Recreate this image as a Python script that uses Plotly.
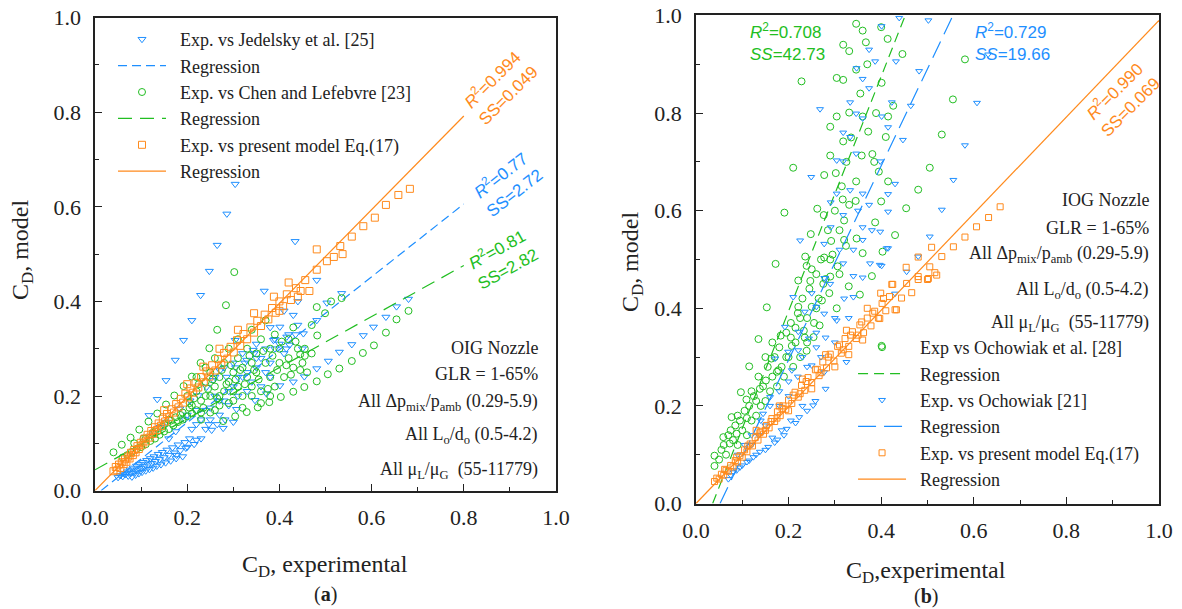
import plotly.graph_objects as go

# ---------------- panel (a): OIG nozzle ----------------
jed_x = [0.304, 0.286, 0.265, 0.248, 0.229, 0.210, 0.192, 0.174, 0.154, 0.135, 0.117,
         0.434, 0.367, 0.481, 0.535, 0.503, 0.481, 0.452, 0.422, 0.604, 0.582, 0.557, 0.530,
         0.506, 0.481, 0.454, 0.430, 0.631, 0.654, 0.680, 0.430, 0.401, 0.416, 0.387, 0.343,
         0.329, 0.304, 0.271, 0.257, 0.242, 0.224, 0.206, 0.184, 0.155, 0.141, 0.127,
         0.278, 0.253, 0.197, 0.177, 0.307, 0.347, 0.372, 0.401, 0.282, 0.230, 0.215,
         0.300, 0.247, 0.220,
         0.200, 0.220, 0.240, 0.260, 0.280, 0.300, 0.320, 0.330, 0.350, 0.360, 0.380, 0.390,
         0.400, 0.410, 0.420, 0.440, 0.450, 0.250, 0.270, 0.290, 0.310, 0.340, 0.370, 0.260,
         0.280, 0.300, 0.320, 0.350, 0.380, 0.410, 0.440,
         0.210, 0.230, 0.250, 0.270, 0.290, 0.310, 0.330, 0.350, 0.370, 0.390, 0.415, 0.435,
         0.285, 0.305, 0.325, 0.345, 0.220, 0.195, 0.175, 0.160, 0.205, 0.240, 0.265, 0.360,
         0.380,
         0.050, 0.055, 0.060, 0.062, 0.066, 0.070, 0.072, 0.076, 0.078, 0.080, 0.083, 0.085,
         0.088, 0.090, 0.092, 0.095, 0.097, 0.100, 0.102, 0.104, 0.107, 0.110, 0.112, 0.115,
         0.118, 0.120, 0.123, 0.126, 0.128, 0.131, 0.134, 0.137, 0.140, 0.143, 0.146, 0.150,
         0.153, 0.156, 0.160, 0.164, 0.168, 0.172, 0.176, 0.180, 0.185, 0.190, 0.195, 0.200]
jed_y = [0.648, 0.585, 0.519, 0.464, 0.413, 0.360, 0.318, 0.276, 0.233, 0.193, 0.159,
         0.527, 0.422, 0.445, 0.417, 0.397, 0.360, 0.332, 0.308, 0.346, 0.328, 0.309, 0.293,
         0.274, 0.258, 0.241, 0.230, 0.367, 0.389, 0.405, 0.371, 0.346, 0.325, 0.318, 0.297,
         0.276, 0.318, 0.254, 0.233, 0.219, 0.201, 0.190, 0.173, 0.145, 0.134, 0.123,
         0.132, 0.128, 0.090, 0.075, 0.172, 0.191, 0.205, 0.222, 0.150, 0.110, 0.098,
         0.145, 0.140, 0.107,
         0.160, 0.140, 0.170, 0.200, 0.190, 0.220, 0.240, 0.210, 0.260, 0.280, 0.270, 0.300,
         0.310, 0.290, 0.330, 0.350, 0.300, 0.150, 0.160, 0.180, 0.200, 0.230, 0.250, 0.240,
         0.260, 0.270, 0.290, 0.310, 0.345, 0.380, 0.400,
         0.130, 0.150, 0.175, 0.190, 0.210, 0.240, 0.250, 0.280, 0.300, 0.320, 0.300, 0.330,
         0.240, 0.260, 0.270, 0.290, 0.170, 0.150, 0.125, 0.110, 0.110, 0.130, 0.140, 0.220,
         0.240,
         0.028, 0.032, 0.030, 0.036, 0.034, 0.040, 0.031, 0.044, 0.037, 0.029, 0.048, 0.040,
         0.033, 0.052, 0.044, 0.036, 0.056, 0.047, 0.039, 0.060, 0.051, 0.042, 0.064, 0.055,
         0.045, 0.068, 0.058, 0.048, 0.072, 0.062, 0.052, 0.077, 0.066, 0.055, 0.081, 0.070,
         0.059, 0.086, 0.075, 0.063, 0.091, 0.080, 0.068, 0.097, 0.085, 0.072, 0.102, 0.092]

chen_x = [0.040, 0.058, 0.077, 0.096, 0.116, 0.135, 0.154, 0.172, 0.192, 0.210, 0.229,
          0.248, 0.265, 0.284, 0.302,
          0.278, 0.304, 0.329, 0.353, 0.378, 0.403, 0.430, 0.454, 0.481, 0.505, 0.530, 0.557,
          0.581, 0.605, 0.631, 0.654, 0.680,
          0.535, 0.499, 0.481, 0.482, 0.455, 0.430, 0.445, 0.512, 0.470,
          0.060, 0.070, 0.080, 0.090, 0.100, 0.110, 0.120, 0.130, 0.140, 0.150, 0.160, 0.170,
          0.180, 0.190, 0.200, 0.210, 0.220, 0.085, 0.105, 0.125, 0.145, 0.165, 0.185, 0.205,
          0.200, 0.210, 0.220, 0.230, 0.240, 0.250, 0.250, 0.260, 0.270, 0.270, 0.280, 0.280,
          0.290, 0.300, 0.300, 0.310, 0.310, 0.320, 0.320, 0.330, 0.330, 0.340, 0.340, 0.350,
          0.350, 0.360, 0.360, 0.370, 0.380, 0.380, 0.390, 0.390, 0.400, 0.400, 0.410, 0.420,
          0.420, 0.430, 0.440, 0.450, 0.460, 0.470, 0.230, 0.250, 0.270, 0.290, 0.220, 0.240,
          0.260, 0.290, 0.310, 0.340, 0.370,
          0.215, 0.225, 0.235, 0.245, 0.255, 0.265, 0.275, 0.285, 0.295, 0.305, 0.315, 0.325,
          0.335, 0.345, 0.355, 0.365, 0.375, 0.385, 0.395, 0.405, 0.415, 0.425, 0.435, 0.445,
          0.455, 0.300, 0.320, 0.340, 0.360, 0.380, 0.260, 0.240, 0.150, 0.160, 0.175, 0.190,
          0.205, 0.230, 0.130, 0.110]
chen_y = [0.081, 0.097, 0.112, 0.129, 0.146, 0.163, 0.182, 0.201, 0.221, 0.241, 0.270,
          0.301, 0.340, 0.392, 0.462,
          0.147, 0.157, 0.166, 0.176, 0.187, 0.198, 0.209, 0.219, 0.231, 0.246, 0.258, 0.274,
          0.291, 0.307, 0.334, 0.362, 0.380,
          0.407, 0.375, 0.388, 0.328, 0.300, 0.345, 0.288, 0.400, 0.350,
          0.070, 0.075, 0.082, 0.088, 0.092, 0.098, 0.105, 0.110, 0.118, 0.125, 0.130, 0.138,
          0.145, 0.150, 0.157, 0.163, 0.170, 0.100, 0.110, 0.122, 0.135, 0.148, 0.160, 0.175,
          0.200, 0.180, 0.210, 0.190, 0.230, 0.200, 0.250, 0.220, 0.180, 0.240, 0.210, 0.270,
          0.230, 0.190, 0.250, 0.280, 0.220, 0.200, 0.260, 0.240, 0.300, 0.220, 0.270, 0.250,
          0.290, 0.210, 0.320, 0.270, 0.240, 0.300, 0.220, 0.330, 0.270, 0.300, 0.240, 0.280,
          0.320, 0.260, 0.300, 0.270, 0.250, 0.290, 0.150, 0.165, 0.200, 0.185, 0.240, 0.260,
          0.280, 0.300, 0.320, 0.340, 0.360,
          0.195, 0.225, 0.175, 0.215, 0.235, 0.195, 0.255, 0.225, 0.265, 0.235, 0.255, 0.225,
          0.285, 0.255, 0.235, 0.295, 0.215, 0.285, 0.255, 0.315, 0.265, 0.245, 0.315, 0.255,
          0.285, 0.210, 0.175, 0.200, 0.185, 0.200, 0.170, 0.200, 0.140, 0.150, 0.155, 0.165,
          0.185, 0.165, 0.125, 0.110]

eq17a_x = [0.040, 0.045, 0.048, 0.052, 0.055, 0.058, 0.062, 0.065, 0.068, 0.072, 0.075,
           0.078, 0.082, 0.085, 0.088, 0.092, 0.095, 0.099, 0.103, 0.107, 0.110, 0.114,
           0.118, 0.122, 0.126, 0.130, 0.134, 0.138, 0.143, 0.147, 0.152, 0.156, 0.161,
           0.166, 0.171, 0.176, 0.181, 0.186, 0.191, 0.196, 0.202, 0.207, 0.213, 0.218,
           0.224, 0.230, 0.236, 0.242, 0.248, 0.254, 0.261, 0.267, 0.274, 0.280, 0.287,
           0.294, 0.301, 0.308, 0.315, 0.322, 0.330, 0.337, 0.345, 0.352, 0.360, 0.368,
           0.376, 0.384, 0.392, 0.400, 0.408, 0.416, 0.425, 0.436, 0.446, 0.456, 0.465,
           0.481, 0.481, 0.503, 0.518, 0.537, 0.532, 0.557, 0.582, 0.607, 0.631, 0.658, 0.683,
           0.200, 0.235, 0.270, 0.310, 0.150, 0.345, 0.388, 0.420, 0.440, 0.400]
eq17a_y = [0.041, 0.050, 0.043, 0.055, 0.048, 0.060, 0.056, 0.066, 0.061, 0.072, 0.068,
           0.080, 0.075, 0.086, 0.081, 0.094, 0.088, 0.101, 0.097, 0.110, 0.104, 0.118,
           0.112, 0.126, 0.120, 0.134, 0.128, 0.142, 0.137, 0.152, 0.146, 0.162, 0.155,
           0.172, 0.165, 0.183, 0.176, 0.194, 0.186, 0.205, 0.197, 0.216, 0.207, 0.228,
           0.218, 0.240, 0.229, 0.252, 0.241, 0.265, 0.254, 0.278, 0.266, 0.291, 0.279,
           0.304, 0.292, 0.318, 0.306, 0.331, 0.320, 0.345, 0.334, 0.359, 0.348, 0.372,
           0.362, 0.386, 0.376, 0.400, 0.390, 0.415, 0.403, 0.428, 0.422, 0.445, 0.422,
           0.467, 0.510, 0.485, 0.494, 0.500, 0.517, 0.537, 0.559, 0.577, 0.604, 0.625, 0.638,
           0.225, 0.262, 0.300, 0.340, 0.170, 0.375, 0.410, 0.440, 0.410, 0.380]

reg_jed_x, reg_jed_y = [0.013, 0.80], [0.0, 0.606]
reg_chen_x, reg_chen_y = [0.0, 0.80], [0.044, 0.476]
reg_eq17a_x, reg_eq17a_y = [0.0, 0.80], [0.0, 0.792]

# ---------------- panel (b): IOG nozzle ----------------
och28_x = [0.346, 0.360, 0.400, 0.414, 0.318, 0.331, 0.367, 0.446, 0.581, 0.555, 0.531,
           0.505, 0.228, 0.304, 0.318, 0.346, 0.401, 0.426, 0.304, 0.331, 0.360, 0.389,
           0.415, 0.290, 0.372, 0.410, 0.318, 0.290, 0.358, 0.381, 0.210, 0.277, 0.302,
           0.346, 0.415, 0.480, 0.317, 0.191, 0.262, 0.276, 0.331, 0.400, 0.454, 0.387,
           0.320, 0.430, 0.347, 0.248, 0.292, 0.324, 0.360, 0.403, 0.380, 0.172, 0.236,
           0.239, 0.277, 0.306, 0.330, 0.288, 0.247, 0.221, 0.153, 0.221, 0.250, 0.272,
           0.354, 0.304, 0.267, 0.233, 0.254, 0.135, 0.183, 0.207, 0.239, 0.401, 0.115,
           0.163, 0.178, 0.151, 0.138, 0.097, 0.109, 0.077, 0.059, 0.040, 0.040, 0.073,
           0.088, 0.290,
           0.050, 0.055, 0.065, 0.070, 0.080, 0.085, 0.090, 0.095, 0.100, 0.105, 0.110,
           0.115, 0.120, 0.125, 0.130, 0.135, 0.140, 0.145, 0.150, 0.155, 0.160, 0.165,
           0.170, 0.175, 0.180, 0.185, 0.190, 0.195, 0.200, 0.205, 0.210, 0.215, 0.220,
           0.225, 0.230, 0.235, 0.240, 0.245, 0.255, 0.260, 0.265, 0.270, 0.280, 0.285,
           0.295, 0.300, 0.310, 0.315, 0.325, 0.335, 0.345, 0.355, 0.370, 0.385, 0.395,
           0.060, 0.075, 0.090, 0.110, 0.120, 0.130, 0.150, 0.165, 0.175, 0.195, 0.205,
           0.215, 0.225, 0.240, 0.250, 0.260, 0.275, 0.290, 0.310, 0.320]
och28_y = [0.983, 0.969, 0.976, 0.952, 0.940, 0.927, 0.945, 0.921, 0.910, 0.828, 0.756,
           0.688, 0.865, 0.872, 0.868, 0.889, 0.862, 0.815, 0.793, 0.801, 0.793, 0.800,
           0.793, 0.772, 0.762, 0.751, 0.742, 0.713, 0.713, 0.716, 0.688, 0.673, 0.677,
           0.660, 0.660, 0.643, 0.623, 0.596, 0.604, 0.591, 0.612, 0.619, 0.605, 0.576,
           0.580, 0.550, 0.543, 0.552, 0.538, 0.528, 0.513, 0.516, 0.466, 0.491, 0.506,
           0.487, 0.504, 0.486, 0.445, 0.431, 0.456, 0.457, 0.402, 0.403, 0.403, 0.416,
           0.428, 0.400, 0.365, 0.354, 0.341, 0.337, 0.344, 0.323, 0.313, 0.323, 0.281,
           0.297, 0.273, 0.252, 0.235, 0.228, 0.213, 0.177, 0.136, 0.098, 0.077, 0.123,
           0.143, 0.465,
           0.090, 0.110, 0.100, 0.140, 0.130, 0.160, 0.120, 0.170, 0.150, 0.190, 0.140,
           0.200, 0.170, 0.220, 0.180, 0.260, 0.200, 0.240, 0.210, 0.280, 0.230, 0.260,
           0.300, 0.240, 0.320, 0.280, 0.260, 0.350, 0.300, 0.370, 0.280, 0.330, 0.390,
           0.300, 0.420, 0.340, 0.380, 0.440, 0.370, 0.470, 0.420, 0.500, 0.460, 0.560,
           0.510, 0.600, 0.560, 0.650, 0.700, 0.750, 0.620, 0.840, 0.900, 0.700, 0.680,
           0.120, 0.150, 0.180, 0.175, 0.230, 0.210, 0.300, 0.330, 0.270, 0.300, 0.340,
           0.360, 0.380, 0.330, 0.480, 0.400, 0.450, 0.500, 0.470, 0.540]

och21_x = [0.439, 0.502, 0.401, 0.374, 0.432, 0.387, 0.347, 0.482, 0.360, 0.374, 0.268,
           0.333, 0.423, 0.346, 0.360, 0.401, 0.415, 0.464, 0.447, 0.318, 0.333, 0.346,
           0.398, 0.304, 0.249, 0.430, 0.333, 0.360, 0.415, 0.304,
           0.631, 0.607, 0.581, 0.556, 0.531, 0.505,
           0.318, 0.291, 0.374, 0.415, 0.291, 0.318, 0.360, 0.398, 0.225, 0.277, 0.415,
           0.376, 0.401, 0.318, 0.340, 0.360, 0.250, 0.277, 0.340, 0.210, 0.235, 0.260,
           0.277, 0.304, 0.192, 0.221, 0.244, 0.171, 0.199, 0.221, 0.207, 0.250, 0.277,
           0.325, 0.253, 0.223, 0.196, 0.176, 0.145, 0.160,
           0.156, 0.138, 0.124, 0.110, 0.095, 0.081, 0.070,
           0.280, 0.258, 0.240, 0.215, 0.190, 0.170, 0.150, 0.130, 0.115, 0.100, 0.088,
           0.075, 0.165, 0.185, 0.205, 0.230, 0.300, 0.330, 0.270, 0.310, 0.350, 0.290,
           0.260, 0.230, 0.200, 0.180, 0.160, 0.140, 0.120, 0.105, 0.090,
           0.412, 0.397, 0.455, 0.430, 0.480,
           0.180, 0.200, 0.220, 0.240, 0.260, 0.280, 0.300, 0.320, 0.340, 0.360, 0.380,
           0.120, 0.135, 0.150]
och21_y = [0.995, 0.990, 0.978, 0.930, 0.906, 0.906, 0.892, 0.886, 0.870, 0.851, 0.808,
           0.822, 0.822, 0.799, 0.789, 0.793, 0.771, 0.815, 0.745, 0.760, 0.751, 0.717,
           0.701, 0.703, 0.669, 0.655, 0.642, 0.635, 0.634, 0.635,
           0.920, 0.821, 0.734, 0.663, 0.602, 0.547,
           0.701, 0.617, 0.612, 0.598, 0.566, 0.591, 0.566, 0.557, 0.539, 0.532, 0.523,
           0.492, 0.487, 0.492, 0.466, 0.463, 0.431, 0.462, 0.423, 0.423, 0.393, 0.403,
           0.389, 0.375, 0.362, 0.352, 0.338, 0.297, 0.311, 0.314, 0.273, 0.283, 0.269,
           0.290, 0.201, 0.177, 0.153, 0.131, 0.184, 0.218,
           0.116, 0.106, 0.095, 0.085, 0.074, 0.064, 0.050,
           0.235, 0.210, 0.190, 0.165, 0.140, 0.125, 0.110, 0.100, 0.088, 0.078, 0.068,
           0.058, 0.135, 0.150, 0.170, 0.200, 0.330, 0.380, 0.300, 0.520, 0.600, 0.450,
           0.350, 0.300, 0.250, 0.230, 0.200, 0.170, 0.140, 0.120, 0.100,
           0.523, 0.489, 0.475, 0.430, 0.506,
           0.200, 0.220, 0.260, 0.280, 0.320, 0.340, 0.380, 0.420, 0.520, 0.540, 0.560,
           0.120, 0.140, 0.160]

eq17b_x = [0.040, 0.045, 0.050, 0.055, 0.060, 0.065, 0.070, 0.075, 0.080, 0.085, 0.090,
           0.095, 0.100, 0.105, 0.110, 0.117, 0.122, 0.128, 0.134, 0.140, 0.146, 0.152,
           0.158, 0.164, 0.170, 0.176, 0.182, 0.188, 0.194, 0.200, 0.207, 0.214, 0.221,
           0.228, 0.235, 0.242, 0.250, 0.258, 0.266, 0.274, 0.282, 0.290, 0.298, 0.306,
           0.314, 0.322, 0.330, 0.338, 0.346, 0.354, 0.362, 0.370, 0.378, 0.386, 0.394,
           0.402, 0.410, 0.418, 0.425, 0.430, 0.444, 0.455, 0.466, 0.480, 0.500, 0.516,
           0.505, 0.531, 0.556, 0.581, 0.606, 0.632, 0.657, 0.509, 0.480, 0.454, 0.480,
           0.502, 0.520, 0.423, 0.433, 0.399,
           0.300, 0.330, 0.360, 0.397, 0.250, 0.200,
           0.230, 0.280, 0.325, 0.370, 0.180, 0.130,
           0.062, 0.088, 0.112, 0.138, 0.162, 0.186, 0.210, 0.238, 0.262, 0.286, 0.310,
           0.334, 0.358, 0.382, 0.405, 0.150, 0.175, 0.225, 0.270, 0.318, 0.350]
eq17b_y = [0.045, 0.052, 0.050, 0.060, 0.058, 0.068, 0.066, 0.078, 0.075, 0.088, 0.085,
           0.098, 0.095, 0.110, 0.106, 0.122, 0.118, 0.135, 0.130, 0.148, 0.142, 0.160,
           0.155, 0.174, 0.168, 0.188, 0.180, 0.200, 0.193, 0.212, 0.205, 0.228, 0.218,
           0.242, 0.232, 0.258, 0.248, 0.274, 0.262, 0.290, 0.278, 0.306, 0.292, 0.322,
           0.308, 0.338, 0.322, 0.352, 0.338, 0.366, 0.350, 0.380, 0.364, 0.394, 0.380,
           0.410, 0.395, 0.424, 0.449, 0.397, 0.421, 0.451, 0.432, 0.459, 0.459, 0.473,
           0.485, 0.506, 0.526, 0.546, 0.567, 0.586, 0.608, 0.525, 0.505, 0.484, 0.465,
           0.461, 0.468, 0.449, 0.397, 0.431,
           0.280, 0.305, 0.335, 0.379, 0.235, 0.190,
           0.255, 0.305, 0.355, 0.400, 0.200, 0.150,
           0.070, 0.095, 0.118, 0.145, 0.168, 0.195, 0.222, 0.250, 0.275, 0.300, 0.325,
           0.345, 0.372, 0.390, 0.420, 0.150, 0.175, 0.225, 0.268, 0.315, 0.345]

reg_och28_x, reg_och28_y = [0.036, 0.452], [0.0, 1.0]
reg_och21_x, reg_och21_y = [0.052, 0.555], [0.0, 1.0]
reg_eq17b_x, reg_eq17b_y = [0.0, 1.0], [0.0, 0.99]

BLUE = "#1E8FFF"
GREEN = "#22BE22"
ORANGE = "#FF8A1C"
SERIF = "Liberation Serif, Times New Roman, serif"
SANS = "Liberation Sans, Arial, sans-serif"
PAD = "\u00a0\u00a0"  # small gap between legend key and label

fig = go.Figure()


def points(x, y, name, symbol, color, size, axis, legend):
    fig.add_trace(go.Scatter(
        x=x, y=y, mode="markers", name=PAD + name, legend=legend,
        xaxis="x" + axis, yaxis="y" + axis,
        marker=dict(symbol=symbol, size=size, color=color, line=dict(width=1, color=color)),
    ))


def line(x, y, color, dash, axis, legend):
    fig.add_trace(go.Scatter(
        x=x, y=y, mode="lines", name=PAD + "Regression", legend=legend,
        xaxis="x" + axis, yaxis="y" + axis,
        line=dict(color=color, width=1.2, dash=dash),
    ))


# panel (a)
points(jed_x, jed_y, "Exp. vs Jedelsky et al. [25]", "triangle-down-open", BLUE, 7, "", "legend")
line(reg_jed_x, reg_jed_y, BLUE, "9px,5px", "", "legend")
points(chen_x, chen_y, "Exp. vs Chen and Lefebvre [23]", "circle-open", GREEN, 7, "", "legend")
line(reg_chen_x, reg_chen_y, GREEN, "14px,8px", "", "legend")
points(eq17a_x, eq17a_y, "Exp. vs present model Eq.(17)", "square-open", ORANGE, 7, "", "legend")
line(reg_eq17a_x, reg_eq17a_y, ORANGE, "solid", "", "legend")

# panel (b)
points(och28_x, och28_y, "Exp vs Ochowiak et al. [28]", "circle-open", GREEN, 7, "2", "legend2")
line(reg_och28_x, reg_och28_y, GREEN, "10px,6px", "2", "legend2")
points(och21_x, och21_y, "Exp. vs Ochowiak [21]", "triangle-down-open", BLUE, 6, "2", "legend2")
line(reg_och21_x, reg_och21_y, BLUE, "18px,8px", "2", "legend2")
points(eq17b_x, eq17b_y, "Exp. vs present model Eq.(17)", "square-open", ORANGE, 6, "2", "legend2")
line(reg_eq17b_x, reg_eq17b_y, ORANGE, "solid", "2", "legend2")

axis_style = dict(
    range=[0, 1], dtick=0.2, tickformat=".1f", ticks="inside", ticklen=7, tickwidth=1,
    tickcolor="#222", showline=True, linecolor="#222", linewidth=1.5, mirror=True,
    showgrid=False, zeroline=False, automargin=False,
    minor=dict(ticks="inside", ticklen=4, dtick=0.1, tickcolor="#222"),
    tickfont=dict(family=SERIF, size=22, color="#222"),
)

legend_style = dict(
    font=dict(family=SERIF, size=18, color="#222"), bgcolor="rgba(0,0,0,0)",
    xanchor="left", yanchor="top", itemwidth=48, tracegroupgap=0,
)

fig.update_layout(
    width=1182, height=609, margin=dict(l=0, r=0, t=0, b=0, autoexpand=False),
    paper_bgcolor="white", plot_bgcolor="white",
    font=dict(family=SERIF, color="#222"),
    xaxis=dict(domain=[0.0804, 0.4704], anchor="y", ticklabelstandoff=6, **axis_style),
    yaxis=dict(domain=[0.1944, 0.9711], anchor="x", ticklabelstandoff=8, **axis_style),
    xaxis2=dict(domain=[0.5888, 0.9805], anchor="y2", ticklabelstandoff=6, **axis_style),
    yaxis2=dict(domain=[0.1732, 0.9746], anchor="x2", ticklabelstandoff=8, **axis_style),
    legend=dict(x=0.0956, y=0.9655, **legend_style),
    legend2=dict(x=0.7217, y=0.4598, **legend_style),
)

ann = []


def text(s, x, y, size=18, family=SERIF, color="#222", xanchor="center", angle=0, align="center"):
    ann.append(dict(text=s, x=x, y=y, xref="paper", yref="paper", showarrow=False,
                    xanchor=xanchor, yanchor="middle", textangle=angle, align=align,
                    font=dict(family=family, size=size, color=color)))


# axis titles and panel tags
text("C<sub>D</sub>, model", 0.0186, 0.5895, size=24, angle=-90)
text("C<sub>D</sub>, model", 0.5347, 0.5698, size=24, angle=-90)
text("C<sub>D</sub>, experimental", 0.275, 0.0706, size=24)
text("C<sub>D</sub>,experimental", 0.7834, 0.0608, size=24)
text("(<b>a</b>)", 0.275, 0.0246, size=20)
text("(<b>b</b>)", 0.7834, 0.0213, size=20)

# nozzle condition notes
notes_a = ["OIG Nozzle", "GLR = 1-65%", "All Δp<sub>mix</sub>/p<sub>amb</sub> (0.29-5.9)",
           "All L<sub>o</sub>/d<sub>o</sub> (0.5-4.2)", "All μ<sub>L</sub>/μ<sub>G</sub>&nbsp; (55-11779)"]
notes_b = ["IOG Nozzle", "GLR = 1-65%", "All Δp<sub>mix</sub>/p<sub>amb</sub> (0.29-5.9)",
           "All L<sub>o</sub>/d<sub>o</sub> (0.5-4.2)", "All μ<sub>L</sub>/μ<sub>G</sub>&nbsp; (55-11779)"]
for s, yy in zip(notes_a, [0.4286, 0.3859, 0.3399, 0.2857, 0.2282]):
    text(s, 0.4569, yy, xanchor="right")
for s, yy in zip(notes_b, [0.6716, 0.6256, 0.5813, 0.5238, 0.4696]):
    text(s, 0.9738, yy, xanchor="right")

# regression statistics
text("<i>R</i><sup>2</sup>=0.994<br>SS=0.049", 0.4222, 0.8571, size=17, family=SANS, color=ORANGE, angle=-45)
text("<i>R</i><sup>2</sup>=0.77<br>SS=2.72", 0.4289, 0.6995, size=17, family=SANS, color=BLUE, angle=-38)
text("<i>R</i><sup>2</sup>=0.81<br>SS=2.82", 0.4247, 0.5764, size=17, family=SANS, color=GREEN, angle=-29)
text("<i>R</i><sup>2</sup>=0.990<br>SS=0.069", 0.9492, 0.8391, size=17, family=SANS, color=ORANGE, angle=-45)
text("<i>R</i><sup>2</sup>=0.708<br><i>SS</i>=42.73", 0.6328, 0.931, size=17, family=SANS, color=GREEN,
     xanchor="left", align="left")
text("<i>R</i><sup>2</sup>=0.729<br><i>SS</i>=19.66", 0.8232, 0.931, size=17, family=SANS, color=BLUE,
     xanchor="left", align="left")

fig.update_layout(annotations=ann)
fig.write_html("out.html")
